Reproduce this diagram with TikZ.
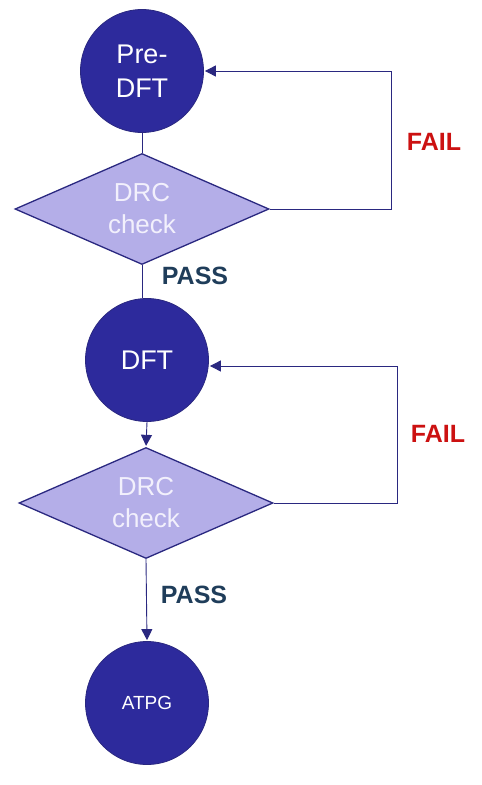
\documentclass[tikz,border=0pt]{standalone}
\usepackage{fontspec}
\setmainfont{Liberation Sans}
\usetikzlibrary{shapes.geometric,arrows.meta}
\definecolor{cfill}{HTML}{2D2A9C}
\definecolor{cline}{HTML}{2A2880}
\definecolor{dfill}{HTML}{B4AEE8}
\definecolor{dtext}{HTML}{F2F0FC}
\definecolor{failc}{HTML}{CC1111}
\definecolor{passc}{HTML}{1F3D5A}
\begin{document}
\begin{tikzpicture}[x=1pt,y=-1pt,
  stepcirc/.style={circle,fill=cfill,draw=cline,line width=0.8pt,minimum size=123pt,inner sep=0pt,text=white,align=center},
  drcbox/.style={diamond,aspect=2.29,fill=dfill,draw=cline,line width=1.3pt,minimum width=254pt,minimum height=111pt,inner sep=0pt,text=dtext,align=center,font=\fontsize{26}{32}\selectfont},
  conn/.style={draw=cline,line width=0.9pt},
  tip/.style={-{Triangle[length=11pt,width=11pt]},shorten >=1pt},
  faillbl/.style={text=failc,font=\fontsize{25}{30}\selectfont\bfseries},
  passlbl/.style={text=passc,font=\fontsize{25}{30}\selectfont\bfseries}]
\useasboundingbox (0,0) rectangle (482,785);
\fill[white] (0,0) rectangle (482,785);
\node[stepcirc,font=\fontsize{27}{34}\selectfont] (c1) at (142,71) {Pre-\\DFT};
\node[drcbox] (d1) at (142,209) {DRC\\check};
\node[stepcirc,font=\fontsize{27}{34}\selectfont] (c2) at (147,360) {DFT};
\node[drcbox] (d2) at (146,503) {DRC\\check};
\node[stepcirc,font=\fontsize{19}{23}\selectfont] (c3) at (147,703) {ATPG};
\coordinate (f1) at (391,71);
\coordinate (f2) at (397,366);
\draw[conn] (c1.south) -- (d1.north);
\draw[conn] (d1.south) -- (d1.south |- c2.north);
\draw[conn,tip] (c2.south) -- (d2.north);
\draw[conn,tip] (d2.south) -- (c3.north);
\draw[conn,tip] (d1.east) -| (f1) -- (c1.east);
\draw[conn,tip] (d2.east) -| (f2) -- (f2 -| c2.east);
\node[faillbl] (fail1) at (434,142) {FAIL};
\node[faillbl] (fail2) at (438,434) {FAIL};
\node[passlbl] (pass1) at (195,276) {PASS};
\node[passlbl] (pass2) at (194,595) {PASS};
\end{tikzpicture}
\end{document}
